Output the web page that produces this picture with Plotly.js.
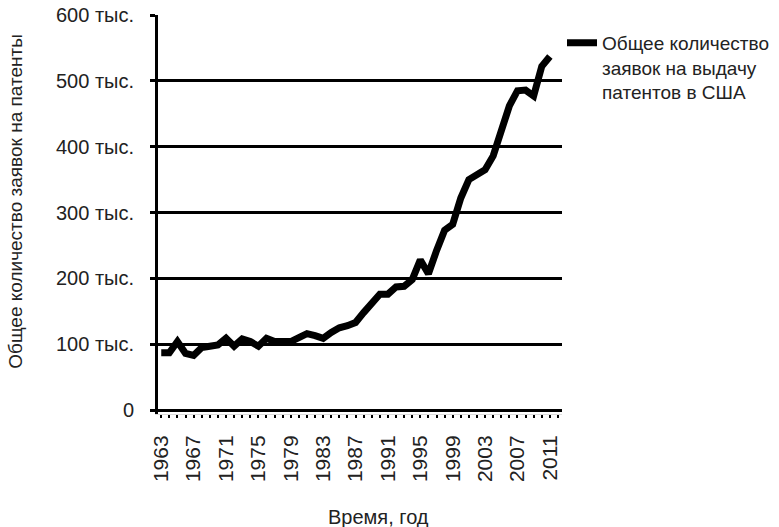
<!DOCTYPE html>
<html>
<head>
<meta charset="utf-8">
<script src="https://cdn.plot.ly/plotly-3.0.1.min.js"></script>
<style>html,body{margin:0;padding:0;background:#fff;}#chart{width:779px;height:527px;}</style>
</head>
<body>
<div id="chart"></div>
<script>
// Data
var years = [1963,1964,1965,1966,1967,1968,1969,1970,1971,1972,1973,1974,1975,1976,1977,1978,1979,1980,1981,1982,1983,1984,1985,1986,1987,1988,1989,1990,1991,1992,1993,1994,1995,1996,1997,1998,1999,2000,2001,2002,2003,2004,2005,2006,2007,2008,2009,2010,2011];
var applications = [87000,87000,104000,86000,83000,95000,97000,99000,109000,97000,108000,104000,97000,109000,104000,103000,104000,110000,116000,113000,109000,118000,125000,128000,133000,148000,164000,176000,176000,187000,188000,198000,228000,207000,242000,273000,282000,322000,350000,358000,365000,386000,424000,462000,485000,486000,477000,522000,537000];
var seriesName = "Общее количество<br>заявок на выдачу<br>патентов в США";
var xTickVals = [1963,1967,1971,1975,1979,1983,1987,1991,1995,1999,2003,2007,2011];
var yTickVals = [0,100000,200000,300000,400000,500000,600000];
var yTickText = ["0","100 тыс.","200 тыс.","300 тыс.","400 тыс.","500 тыс.","600 тыс."];
var xTitle = "Время, год";
var yTitle = "Общее количество заявок на патенты";

var font = "Liberation Sans, Arial, sans-serif";
var txt = "#222";

var trace = {
  x: years, y: applications, type: "scatter", mode: "lines",
  name: seriesName,
  line: {color: "#000", width: 7},
  showlegend: true
};

var layout = {
  width: 779, height: 527,
  margin: {l: 158, r: 217, t: 15, b: 113, autoexpand: false},
  paper_bgcolor: "#fff", plot_bgcolor: "#fff",
  font: {family: font, size: 20, color: txt},
  showlegend: true,
  legend: {x: 1.0, xanchor: "left", y: 0.978, yanchor: "top", valign: "top",
           font: {family: font, size: 19, color: txt}, bgcolor: "rgba(0,0,0,0)"},
  xaxis: {
    range: [1962.6, 2012.5],
    tickmode: "array", tickvals: xTickVals, ticktext: xTickVals.map(String),
    tickangle: -90,
    ticks: "outside", ticklen: 3, tickwidth: 2, tickcolor: "#000",
    minor: {dtick: 1, tick0: 1963, ticks: "outside", ticklen: 3, tickwidth: 2, tickcolor: "#000", showgrid: false},
    showgrid: false, zeroline: false,
    showline: true, linecolor: "#ddd", linewidth: 1,
    ticklabelstandoff: 9,
    tickfont: {family: font, size: 21, color: txt},
    automargin: false
  },
  yaxis: {
    range: [-6000, 600000],
    tickmode: "array", tickvals: yTickVals, ticktext: yTickText,
    ticks: "outside", ticklen: 5, tickwidth: 3, tickcolor: "#000",
    ticklabelstandoff: 12,
    showgrid: true, gridcolor: "#000", gridwidth: 3,
    zeroline: true, zerolinecolor: "#000", zerolinewidth: 3,
    showline: true, linecolor: "#000", linewidth: 3,
    tickfont: {family: font, size: 20, color: txt},
    automargin: false
  },
  annotations: [
    {text: xTitle, xref: "paper", yref: "paper", x: 0.547, y: -0.258,
     xanchor: "center", yanchor: "middle", showarrow: false,
     font: {family: font, size: 20, color: txt}},
    {text: yTitle, xref: "paper", yref: "paper", x: -0.352, y: 0.534, textangle: -90,
     xanchor: "center", yanchor: "middle", showarrow: false,
     font: {family: font, size: 19, color: txt}}
  ]
};

Plotly.newPlot("chart", [trace], layout, {displayModeBar: false, staticPlot: true});
</script>
</body>
</html>
